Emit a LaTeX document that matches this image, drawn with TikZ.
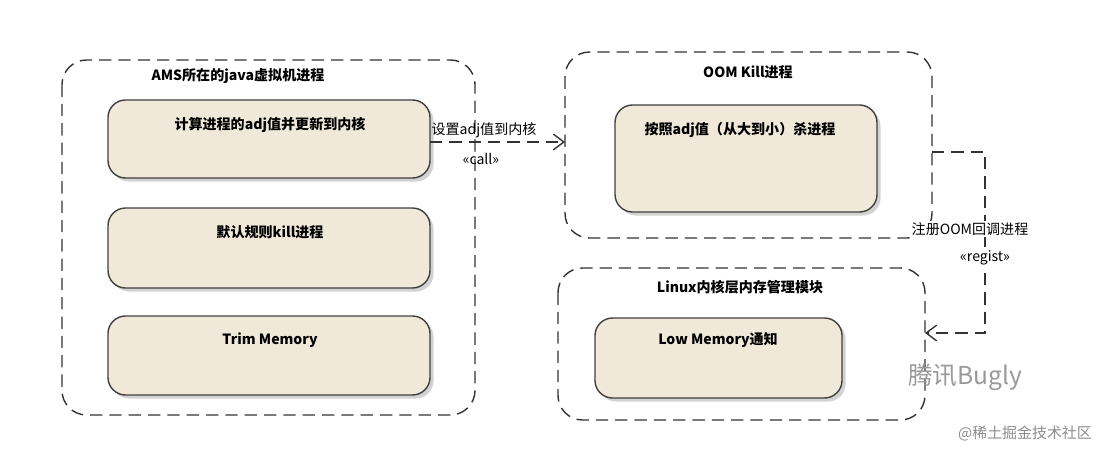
\documentclass[tikz,border=0pt]{standalone}
\usepackage{fontspec}
\setmainfont{Noto Sans CJK SC}
\usetikzlibrary{arrows.meta,shadows}
\definecolor{beige}{RGB}{240,233,218}
\tikzset{
  cont/.style={draw=black!80, dash pattern=on 7pt off 4pt, thick, rounded corners=14pt},
  inner/.style={draw=black!75, thick, rounded corners=10pt, fill=beige,
     drop shadow={shadow xshift=2pt, shadow yshift=-2pt, fill=black!35}},
  ttl/.style={font=\fontsize{8}{9}\selectfont\bfseries},
  lbl/.style={font=\fontsize{8}{9}\selectfont},
  conn/.style={draw=black!80, dash pattern=on 7pt off 4pt, thick},
}
\begin{document}
\begin{tikzpicture}[x=0.02cm,y=-0.02cm]
\useasboundingbox (0,0) rectangle (1118,459);
% containers
\draw[cont] (62,60) rectangle (475,415);
\draw[cont] (565,52) rectangle (932,238);
\draw[cont] (558,268) rectangle (925,420);
\node[ttl] (t1) at (238,76) {AMS所在的java虚拟机进程};
\node[ttl] (t2) at (748,72) {OOM Kill进程};
\node[ttl] (t3) at (740,287) {Linux内核层内存管理模块};
% inner boxes
\path[inner] (108,100) rectangle (430,178);
\coordinate (b1e) at (430,142);
\node[ttl] (b1) at (270,125) {计算进程的adj值并更新到内核};
\path[inner] (108,208) rectangle (430,288);
\node[ttl] (b2) at (270,232) {默认规则kill进程};
\path[inner] (108,316) rectangle (430,395);
\node[ttl] (b3) at (270,340) {Trim Memory};
\path[inner] (615,105) rectangle (877,212);
\node[ttl] (b4) at (740,130) {按照adj值（从大到小）杀进程};
\path[inner] (595,318) rectangle (842,398);
\node[ttl] (b5) at (718,340) {Low Memory通知};
% connectors
\coordinate (c2) at (565,142);
\draw[conn, -{Straight Barb[length=6pt,width=9pt]}] (b1e) -- (c2);
\node[lbl] (l1) at (484,130) {设置adj值到内核};
\node[lbl] (l2) at (481,159) {«call»};
\coordinate (r0) at (932,152);
\coordinate (r1) at (925,333);
\draw[conn, -{Straight Barb[length=6pt,width=9pt]}] (r0) -- (985,152) -- (985,333) -- (r1);
\node[lbl, fill=white, inner sep=1pt] (l3) at (970,229) {注册OOM回调进程};
\node[lbl, fill=white, inner sep=1pt] (l4) at (985,258) {«regist»};
% watermarks
\node[font=\fontsize{14}{16}\selectfont, text=black!40] (w1) at (965,377) {腾讯Bugly};
\node[font=\fontsize{8.5}{10}\selectfont, text=black!45] (w2) at (1025,433) {@稀土掘金技术社区};
\end{tikzpicture}
\end{document}
